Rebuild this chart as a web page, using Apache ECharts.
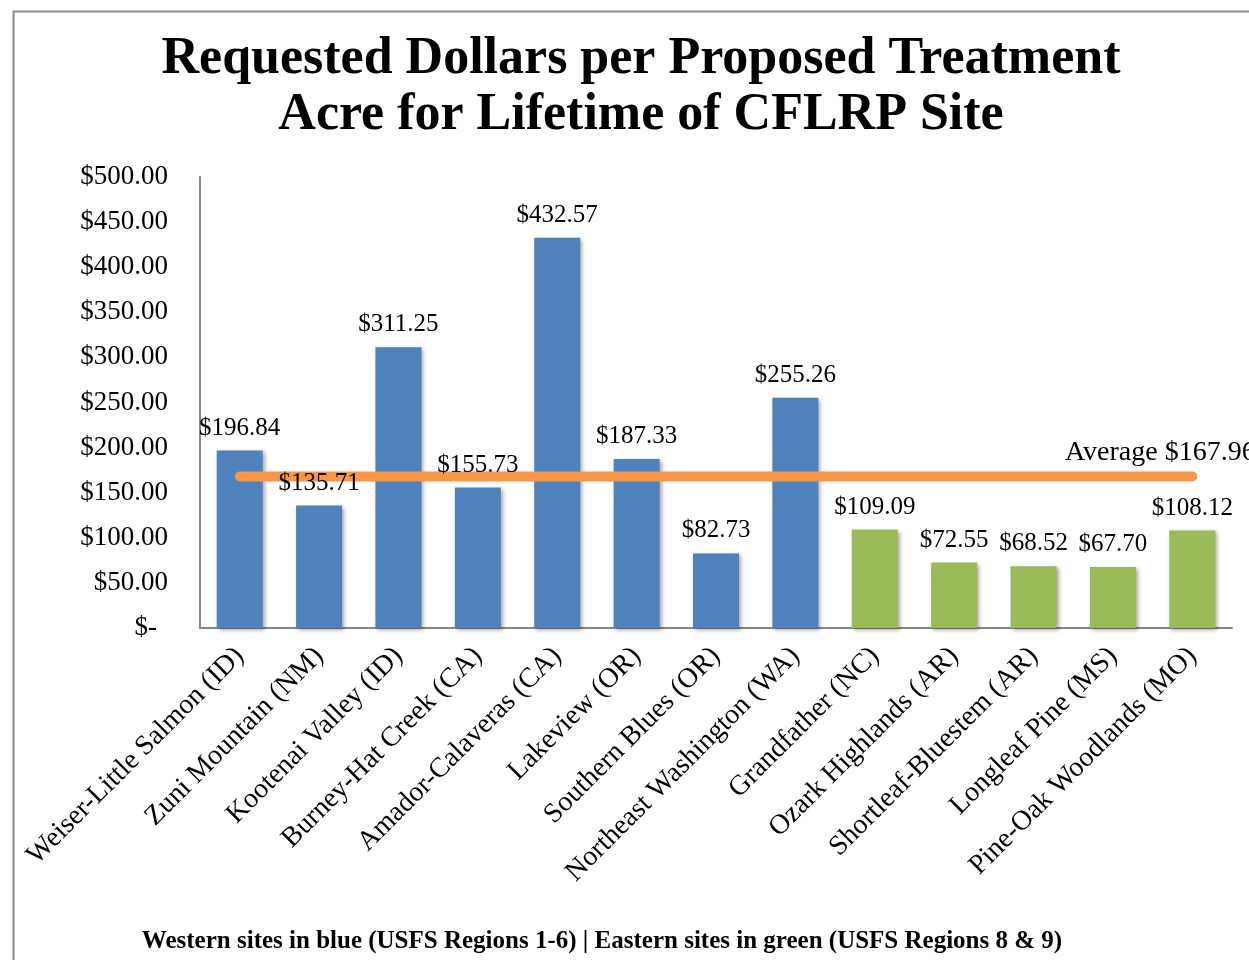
<!DOCTYPE html>
<html>
<head>
<meta charset="utf-8">
<script src="https://cdn.jsdelivr.net/npm/echarts@6/dist/echarts.min.js"></script>
<style>html,body{margin:0;padding:0;background:#fff}#chart{width:1249px;height:960px}</style>
</head>
<body>
<div id="chart"></div>
<script>
const categories = ['Weiser-Little Salmon (ID)','Zuni Mountain (NM)','Kootenai Valley (ID)','Burney-Hat Creek (CA)','Amador-Calaveras (CA)','Lakeview (OR)','Southern Blues (OR)','Northeast Washington (WA)','Grandfather (NC)','Ozark Highlands (AR)','Shortleaf-Bluestem (AR)','Longleaf Pine (MS)','Pine-Oak Woodlands (MO)'];
const dollarsPerAcre = [196.84,135.71,311.25,155.73,432.57,187.33,82.73,255.26,109.09,72.55,68.52,67.70,108.12];
const siteRegion = ['West','West','West','West','West','West','West','West','East','East','East','East','East'];
const averageLine = [167.96,167.96,167.96,167.96,167.96,167.96,167.96,167.96,167.96,167.96,167.96,167.96,167.96];
const averageLabel = 'Average $167.96';
const yTicks = {min:0, max:500, interval:50};
const titleText = 'Requested Dollars per Proposed Treatment\nAcre for Lifetime of CFLRP Site';
const footerText = 'Western sites in blue (USFS Regions 1-6) | Eastern sites in green (USFS Regions 8 & 9)';

const COLORS = {West:'#4F81BD', East:'#9BBB59'};
const FONT = '"Liberation Serif", "DejaVu Serif", serif';

const chart = echarts.init(document.getElementById('chart'), null, {renderer:'canvas'});
const money = v => '$' + v.toFixed(2);

chart.setOption({
  animation:false,
  backgroundColor:'#fff',
  graphic:[{type:'rect', left:11, top:9, shape:{width:1300, height:1000}, style:{fill:'none', stroke:'#8c8c8c', lineWidth:2}, z:0}],
  title:[
    {text:titleText, left:636, top:27, textAlign:'center',
     textStyle:{fontFamily:FONT, fontWeight:'bold', fontSize:52, lineHeight:56, color:'#000'}},
    {text:footerText, left:597, top:924, textAlign:'center',
     textStyle:{fontFamily:FONT, fontWeight:'bold', fontSize:25, color:'#000'}}
  ],
  grid:{left:200, right:17, top:177, bottom:332, containLabel:false},
  xAxis:{type:'category', data:categories,
    axisLine:{lineStyle:{color:'#878787', width:2}}, axisTick:{show:false},
    axisLabel:{rotate:45, interval:0, margin:24, fontFamily:FONT, fontSize:28, color:'#000'}},
  yAxis:{type:'value', min:yTicks.min, max:yTicks.max, interval:yTicks.interval,
    axisLine:{show:true, lineStyle:{color:'#878787', width:2}}, axisTick:{show:false}, splitLine:{show:false},
    axisLabel:{margin:32, fontFamily:FONT, fontSize:27, color:'#000',
      formatter:v => v === 0 ? '{z|$-}' : money(v),
      rich:{z:{fontFamily:FONT, fontSize:27, color:'#000', padding:[0,11,0,0]}}}},
  series:[
    {type:'bar', name:'bars', barWidth:46, z:2,
     data:dollarsPerAcre.map((v,i)=>({value:v, itemStyle:{color:COLORS[siteRegion[i]]}})),
     itemStyle:{shadowBlur:4, shadowOffsetX:2, shadowOffsetY:2, shadowColor:'rgba(0,0,0,0.35)'}},
    {type:'line', name:'avg', data:averageLine.map((v,i)=> i===averageLine.length-1 ?
        {value:v, label:{show:true, formatter:averageLabel, position:'top', offset:[-32,-4]}} : v),
     z:3, symbol:'circle', symbolSize:1, showSymbol:true, itemStyle:{color:'rgba(0,0,0,0)', borderWidth:0},
     lineStyle:{color:'#F79646', width:10, cap:'round'},
     label:{show:false, fontFamily:FONT, fontSize:28, color:'#000'}},
    {type:'bar', name:'labels', barWidth:46, barGap:'-100%', z:5, silent:true,
     data:dollarsPerAcre, itemStyle:{color:'rgba(0,0,0,0)'},
     label:{show:true, position:'top', distance:10, fontFamily:FONT, fontSize:25, color:'#000', formatter:p => money(p.value)}}
  ]
});
</script>
</body>
</html>
